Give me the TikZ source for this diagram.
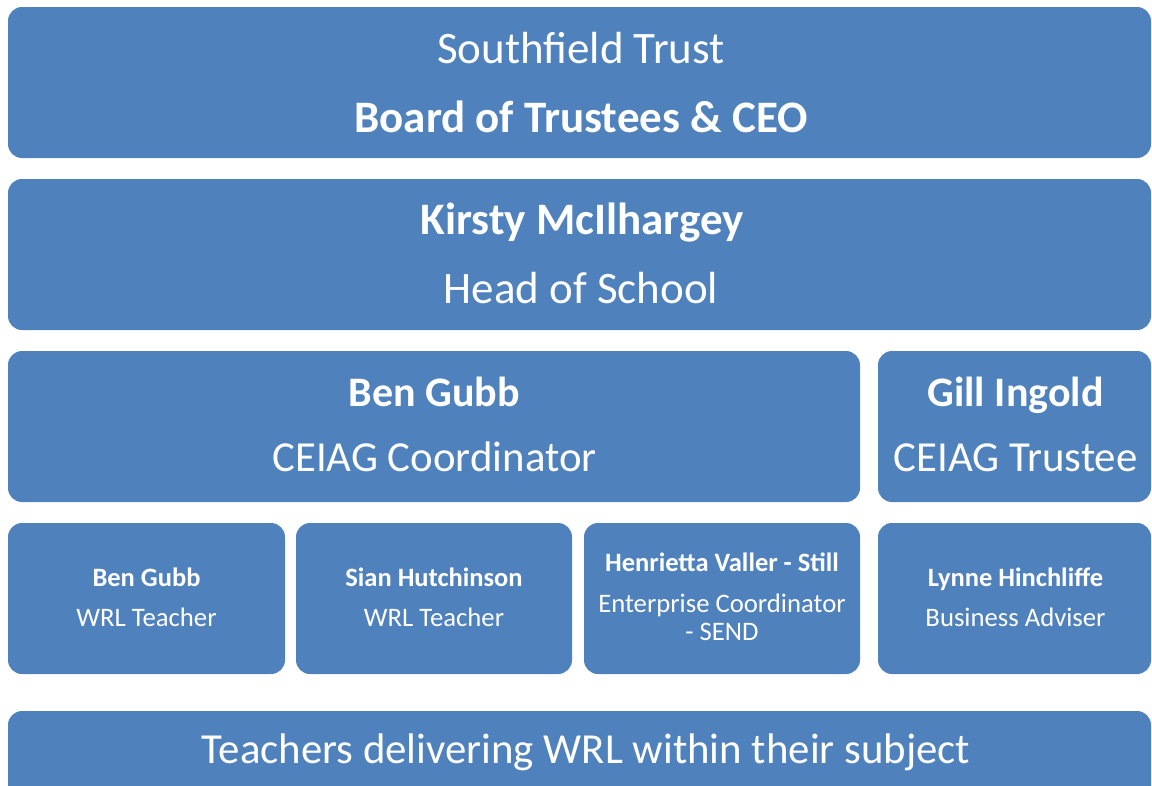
\documentclass[tikz,border=0pt]{standalone}
\usepackage{fontspec}
\setmainfont{Carlito}
\definecolor{boxblue}{HTML}{4F81BD}
\tikzset{
  box/.style={fill=boxblue, draw=none, rounded corners=14pt, inner sep=0pt, outer sep=0pt},
  txt/.style={text=white, anchor=base, inner sep=0pt},
  topreg/.style={txt, font=\fontsize{45}{45}\selectfont},
  topbold/.style={txt, font=\fontsize{45}{45}\selectfont\bfseries},
  midreg/.style={txt, font=\fontsize{42.8}{43}\selectfont},
  midbold/.style={txt, font=\fontsize{42}{42}\selectfont\bfseries},
  smreg/.style={txt, font=\fontsize{26.7}{27}\selectfont},
  smbold/.style={txt, font=\fontsize{26.5}{27}\selectfont\bfseries},
}
\begin{document}
\begin{tikzpicture}[x=1pt, y=-1pt]
  \useasboundingbox (0,0) rectangle (1152,785);
  \clip (0,0) rectangle (1152,785);

  % boxes: name at (centre) with width and height
  \node[box, minimum width=1143pt, minimum height=151pt] (trust) at (579.5,82.5) {};
  \node[box, minimum width=1143pt, minimum height=151pt] (head)  at (579.5,254.5) {};
  \node[box, minimum width=852pt,  minimum height=151pt] (coord) at (434,426.5) {};
  \node[box, minimum width=273pt,  minimum height=151pt] (trustee) at (1014.5,426.5) {};
  \node[box, minimum width=277pt,  minimum height=151pt] (wrlA) at (146.5,598.5) {};
  \node[box, minimum width=276pt,  minimum height=151pt] (wrlB) at (434,598.5) {};
  \node[box, minimum width=276pt,  minimum height=151pt] (ent)  at (722,598.5) {};
  \node[box, minimum width=273pt,  minimum height=151pt] (biz)  at (1014.5,598.5) {};
  \node[box, minimum width=1143pt, minimum height=151pt] (subj) at (579.5,786.5) {};

  % texts, placed on their baselines
  \node[topreg]  (t1a) at (581,63)  {Southfield Trust};
  \node[topbold] (t1b) at (581,132) {Board of Trustees \& CEO};
  \node[topbold] (t2a) at (582,234) {Kirsty McIlhargey};
  \node[topreg]  (t2b) at (581,303) {Head of School};
  \node[midbold] (t3a) at (434.5,406) {Ben Gubb};
  \node[midreg]  (t3b) at (434.5,471) {CEIAG Coordinator};
  \node[midbold] (t4a) at (1015.5,406) {Gill Ingold};
  \node[midreg]  (t4b) at (1015.5,471) {CEIAG Trustee};
  \node[smbold]  (t5a) at (146.5,586.5) {Ben Gubb};
  \node[smreg]   (t5b) at (146.5,626) {WRL Teacher};
  \node[smbold]  (t6a) at (434,586.5) {Sian Hutchinson};
  \node[smreg]   (t6b) at (434,626) {WRL Teacher};
  \node[smbold]  (t7a) at (722,571.5) {Henrietta Valler - Still};
  \node[smreg]   (t7b) at (722,612) {Enterprise Coordinator};
  \node[smreg]   (t7c) at (722,640) {- SEND};
  \node[smbold]  (t8a) at (1015.5,586.5) {Lynne Hinchliffe};
  \node[smreg]   (t8b) at (1015.5,626) {Business Adviser};
  \node[midreg]  (t9)  at (586,763) {Teachers delivering WRL within their subject};
\end{tikzpicture}
\end{document}
